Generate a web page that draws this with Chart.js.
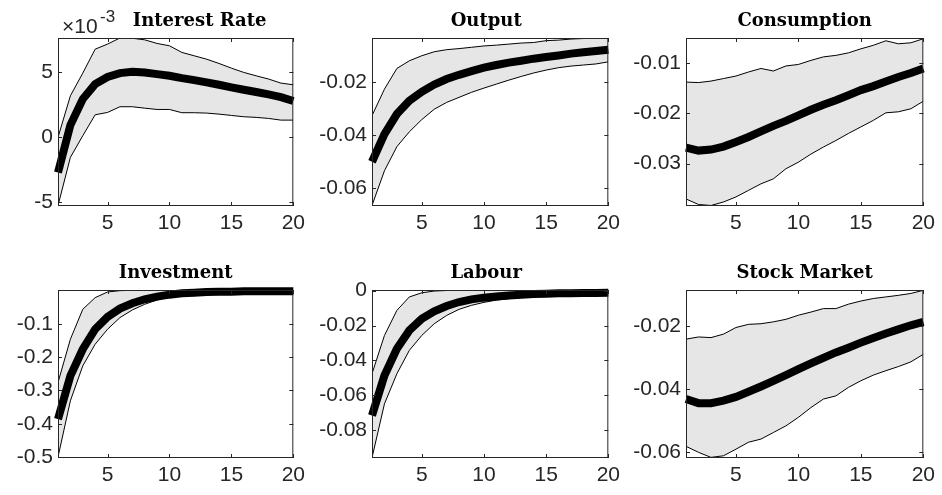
<!DOCTYPE html>
<html>
<head>
<meta charset="utf-8">
<script src="https://cdn.jsdelivr.net/npm/chart.js@4.4.0/dist/chart.umd.min.js"></script>
<style>
  body { margin: 0; background: #fff; }
  #wrap { position: relative; width: 942px; height: 495px; overflow: hidden; }
  #wrap canvas { position: absolute; }
</style>
</head>
<body>
<div id="wrap"></div>
<script>
// impulse response horizon
const horizon = [1, 2, 3, 4, 5, 6, 7, 8, 9, 10, 11, 12, 13, 14, 15, 16, 17, 18, 19, 20];
const xTicks = [5, 10, 15, 20];

// Interest Rate (axis in units of 10^-3)
const rateUpper = [-0.05, 3.15, 4.9, 6.74, 7.13, 7.6, 7.58, 7.46, 7.18, 7.0, 6.49, 6.23, 5.97, 5.64, 5.28, 4.95, 4.69, 4.44, 4.13, 4.0];
const rateMedian = [-2.75, 0.9, 2.9, 4.05, 4.6, 4.9, 5.0, 4.95, 4.82, 4.69, 4.51, 4.36, 4.18, 4.0, 3.8, 3.62, 3.44, 3.26, 3.05, 2.75];
const rateLower = [-5.3, -1.59, 0.08, 1.69, 1.87, 2.31, 2.31, 2.2, 2.1, 2.1, 1.85, 1.85, 1.82, 1.74, 1.64, 1.54, 1.49, 1.41, 1.28, 1.28];
const rateTicks = [-5, 0, 5];

// Output
const outputUpper = [-0.0328, -0.0228, -0.015, -0.0121, -0.0102, -0.0087, -0.0079, -0.0075, -0.007, -0.0065, -0.0062, -0.0058, -0.0054, -0.0052, -0.0045, -0.0043, -0.0039, -0.0037, -0.0036, -0.0036];
const outputMedian = [-0.0502, -0.0398, -0.0322, -0.0272, -0.0238, -0.0211, -0.019, -0.0174, -0.016, -0.0147, -0.0137, -0.0128, -0.0121, -0.0113, -0.0107, -0.0101, -0.0094, -0.0089, -0.0084, -0.0079];
const outputLower = [-0.0667, -0.0536, -0.0445, -0.0389, -0.0343, -0.0304, -0.0278, -0.0259, -0.024, -0.0224, -0.0209, -0.0194, -0.018, -0.0167, -0.0156, -0.0147, -0.0141, -0.0137, -0.0133, -0.0125];
const outputTicks = [-0.06, -0.04, -0.02];

// Consumption
const consUpper = [-0.0138, -0.0139, -0.0136, -0.0131, -0.0126, -0.0118, -0.0111, -0.0116, -0.0106, -0.0103, -0.0095, -0.0088, -0.0085, -0.008, -0.0072, -0.0065, -0.0056, -0.0062, -0.006, -0.0052];
const consMedian = [-0.0268, -0.0274, -0.0272, -0.0266, -0.0257, -0.0247, -0.0236, -0.0225, -0.0215, -0.0204, -0.0193, -0.0183, -0.0174, -0.0164, -0.0154, -0.0146, -0.0137, -0.0128, -0.012, -0.0111];
const consLower = [-0.037, -0.0381, -0.0383, -0.0376, -0.0366, -0.0353, -0.034, -0.033, -0.031, -0.0297, -0.0281, -0.0267, -0.0254, -0.024, -0.0227, -0.0214, -0.0199, -0.0197, -0.0191, -0.0176];
const consTicks = [-0.03, -0.02, -0.01];

// Investment
const invUpper = [-0.276, -0.146, -0.056, -0.021, -0.004, 0.0, 0.001, 0.001, 0.001, 0.001, 0.001, 0.001, 0.001, 0.001, 0.0015, 0.0015, 0.0015, 0.0015, 0.0015, 0.0015];
const invMedian = [-0.386, -0.256, -0.176, -0.116, -0.079, -0.054, -0.038, -0.026, -0.018, -0.012, -0.008, -0.006, -0.004, -0.003, -0.003, -0.002, -0.002, -0.002, -0.002, -0.002];
const invLower = [-0.5, -0.331, -0.226, -0.161, -0.116, -0.081, -0.058, -0.041, -0.028, -0.019, -0.013, -0.009, -0.007, -0.005, -0.004, -0.004, -0.003, -0.003, -0.003, -0.003];
const invTicks = [-0.5, -0.4, -0.3, -0.2, -0.1];

// Labour
const labUpper = [-0.0477, -0.0257, -0.0113, -0.0036, -0.0012, -0.0002, 0.0001, 0.0002, 0.0002, 0.0002, 0.0002, 0.0002, 0.0002, 0.0002, 0.0002, 0.0002, 0.0002, 0.0002, 0.0002, 0.0002];
const labMedian = [-0.0717, -0.0487, -0.0334, -0.0228, -0.0161, -0.0119, -0.0088, -0.0065, -0.005, -0.004, -0.0033, -0.0027, -0.0023, -0.0019, -0.0017, -0.0015, -0.0014, -0.0013, -0.0013, -0.0012];
const labLower = [-0.096, -0.065, -0.0477, -0.0343, -0.0257, -0.019, -0.0142, -0.0107, -0.0084, -0.0067, -0.0054, -0.0046, -0.0038, -0.0033, -0.0027, -0.0023, -0.0021, -0.0019, -0.0018, -0.0017];
const labTicks = [-0.08, -0.06, -0.04, -0.02, 0];

// Stock Market
const stockUpper = [-0.0242, -0.0235, -0.0237, -0.0226, -0.0205, -0.0195, -0.0193, -0.0187, -0.0179, -0.0166, -0.0156, -0.0145, -0.0145, -0.0131, -0.0121, -0.0113, -0.0108, -0.0103, -0.0097, -0.0087];
const stockMedian = [-0.0432, -0.0445, -0.0445, -0.0437, -0.0425, -0.0409, -0.0392, -0.0374, -0.0356, -0.0337, -0.0319, -0.0301, -0.0284, -0.0269, -0.0253, -0.0238, -0.0224, -0.0211, -0.0198, -0.0187];
const stockLower = [-0.0582, -0.0601, -0.0617, -0.0612, -0.0591, -0.0569, -0.0559, -0.0538, -0.0517, -0.049, -0.0459, -0.0432, -0.0422, -0.0395, -0.0374, -0.0356, -0.0342, -0.0329, -0.0314, -0.029];
const stockTicks = [-0.06, -0.04, -0.02];

const panels = [
  { title: 'Interest Rate', upper: rateUpper, median: rateMedian, lower: rateLower, ticks: rateTicks, min: -5.33, max: 7.6, box: [58, 38, 238, 168], titleShift: 24, exponent: true },
  { title: 'Output', upper: outputUpper, median: outputMedian, lower: outputLower, ticks: outputTicks, min: -0.0669, max: -0.0035, box: [372, 38, 239, 168], titleShift: -4 },
  { title: 'Consumption', upper: consUpper, median: consMedian, lower: consLower, ticks: consTicks, min: -0.0384, max: -0.00505, box: [686, 38, 240, 168] },
  { title: 'Investment', upper: invUpper, median: invMedian, lower: invLower, ticks: invTicks, min: -0.503, max: 0.002, box: [58, 290, 238, 168] },
  { title: 'Labour', upper: labUpper, median: labMedian, lower: labLower, ticks: labTicks, min: -0.0961, max: 0.0004, box: [372, 290, 239, 168], titleShift: -4 },
  { title: 'Stock Market', upper: stockUpper, median: stockMedian, lower: stockLower, ticks: stockTicks, min: -0.0619, max: -0.0086, box: [686, 290, 240, 168] }
];

const PAD_L = 58, PAD_T = 38, PAD_R = 14, PAD_B = 36;
const axisColor = '#262626';
const tickFont = { family: '"Liberation Sans", Arial, sans-serif', size: 21 };

// box, inward ticks on all four sides, title, exponent label
const matlabAxes = {
  id: 'matlabAxes',
  afterDraw(chart, args, opts) {
    const { ctx, chartArea: a, scales: { x, y } } = chart;
    ctx.save();
    ctx.strokeStyle = axisColor;
    ctx.lineWidth = 1;
    ctx.beginPath();
    x.ticks.forEach(t => {
      const px = Math.round(x.getPixelForValue(t.value)) + 0.5;
      ctx.moveTo(px, a.bottom); ctx.lineTo(px, a.bottom - 4);
      ctx.moveTo(px, a.top); ctx.lineTo(px, a.top + 4);
    });
    y.ticks.forEach(t => {
      const py = Math.round(y.getPixelForValue(t.value)) + 0.5;
      ctx.moveTo(a.left, py); ctx.lineTo(a.left + 4, py);
      ctx.moveTo(a.right, py); ctx.lineTo(a.right - 4, py);
    });
    ctx.stroke();
    ctx.strokeRect(a.left + 0.5, a.top + 0.5, a.right - a.left - 1, a.bottom - a.top - 1);

    ctx.fillStyle = '#000';
    ctx.font = 'bold 18px "DejaVu Serif", serif';
    ctx.textAlign = 'center';
    ctx.textBaseline = 'middle';
    ctx.fillText(opts.title, (a.left + a.right) / 2 + (opts.titleShift || 0), a.top - 17);

    if (opts.exponent) {
      ctx.fillStyle = axisColor;
      ctx.textAlign = 'left';
      ctx.font = '21px "Liberation Sans", Arial, sans-serif';
      ctx.fillText('\u00d710', a.left + 4, a.top - 11);
      ctx.font = '17px "Liberation Sans", Arial, sans-serif';
      ctx.fillText('-3', a.left + 42, a.top - 21);
    }
    ctx.restore();
  }
};

const wrap = document.getElementById('wrap');

panels.forEach(p => {
  const [L, T, W, H] = p.box;
  const canvas = document.createElement('canvas');
  const cw = W + PAD_L + PAD_R, ch = H + PAD_T + PAD_B;
  canvas.width = cw; canvas.height = ch;
  canvas.style.left = (L - PAD_L) + 'px';
  canvas.style.top = (T - PAD_T) + 'px';
  canvas.style.width = cw + 'px';
  canvas.style.height = ch + 'px';
  wrap.appendChild(canvas);

  const pts = arr => horizon.map((h, i) => ({ x: h, y: arr[i] }));

  new Chart(canvas.getContext('2d'), {
    type: 'line',
    data: {
      datasets: [
        { label: 'median', data: pts(p.median), borderColor: '#000', borderWidth: 8, pointRadius: 0, fill: false, clip: 6, order: 0 },
        { label: 'upper', data: pts(p.upper), borderColor: '#000', borderWidth: 1, pointRadius: 0, fill: '+1', backgroundColor: '#e6e6e6', order: 1 },
        { label: 'lower', data: pts(p.lower), borderColor: '#000', borderWidth: 1, pointRadius: 0, fill: false, order: 2 }
      ]
    },
    options: {
      responsive: false,
      animation: false,
      devicePixelRatio: 1,
      layout: { padding: { left: 0, top: PAD_T, right: PAD_R, bottom: 0 } },
      plugins: {
        legend: { display: false },
        tooltip: { enabled: false },
        filler: { drawTime: 'beforeDatasetsDraw' },
        matlabAxes: { title: p.title, titleShift: p.titleShift, exponent: p.exponent }
      },
      scales: {
        x: {
          type: 'linear', min: 1, max: 20,
          grid: { display: false, drawTicks: false },
          border: { display: false },
          afterBuildTicks: s => { s.ticks = xTicks.map(v => ({ value: v })); },
          afterFit: s => { s.height = PAD_B; },
          ticks: { color: axisColor, font: tickFont, padding: 5, maxRotation: 0, autoSkip: false, callback: v => String(v) }
        },
        y: {
          type: 'linear', min: p.min, max: p.max,
          grid: { display: false, drawTicks: false },
          border: { display: false },
          afterBuildTicks: s => { s.ticks = p.ticks.map(v => ({ value: v })); },
          afterFit: s => { s.width = PAD_L; },
          ticks: { color: axisColor, font: tickFont, padding: 5, autoSkip: false, callback: v => String(v) }
        }
      }
    },
    plugins: [matlabAxes]
  });
});
</script>
</body>
</html>
